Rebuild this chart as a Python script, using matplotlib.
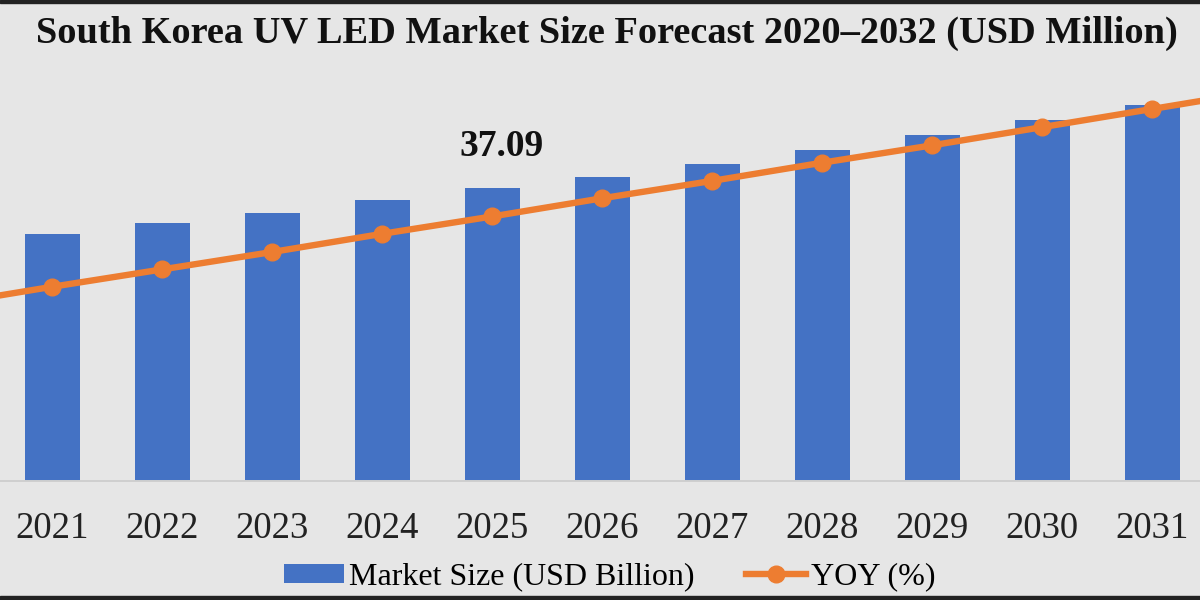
import matplotlib.pyplot as plt
from matplotlib.patches import Rectangle

# Data
years = ["2020", "2021", "2022", "2023", "2024", "2025", "2026",
         "2027", "2028", "2029", "2030", "2031", "2032"]
market_size = [29.9, 31.3, 32.7, 34.0, 35.6, 37.09, 38.5,
               40.2, 41.9, 43.8, 45.7, 47.6, 49.5]
yoy = [22.3, 24.6, 26.8, 29.0, 31.3, 33.5, 35.8,
       38.0, 40.3, 42.5, 44.8, 47.1, 49.4]
label_year = "2025"
label_text = "37.09"

bg = "#e6e6e6"
bar_color = "#4472c4"
line_color = "#ed7d31"
serif = ["Liberation Serif", "DejaVu Serif"]

fig = plt.figure(figsize=(12, 6), dpi=100, facecolor=bg)
ax = fig.add_axes([0, 0.198, 1, 0.702])
ax.set_facecolor(bg)

x = list(range(len(years)))
ax.bar(x, market_size, width=0.5, color=bar_color, zorder=2,
       label="Market Size (USD Billion)")

ax2 = ax.twinx()
ax2.plot(x, yoy, color=line_color, linewidth=4.6, marker="o",
         markersize=12, zorder=3, label="YOY (%)")

# Data label above 2025 bar
i = years.index(label_year)
ax.annotate(label_text, (x[i], market_size[i]), xytext=(10, 42),
            textcoords="offset pixels", ha="center", va="center",
            fontsize=27, fontweight="bold", family=serif, color="#111111")

ax.set_xticks(x)
ax.set_xticklabels(years, family=serif, fontsize=26.5, color="#222222")
ax.tick_params(axis="x", length=0, pad=22)
ax.set_yticks([])
ax2.set_yticks([])
for a in (ax, ax2):
    for s in ("top", "left", "right"):
        a.spines[s].set_visible(False)
    a.spines["bottom"].set_color("#cfcfcf")
    a.spines["bottom"].set_linewidth(1.2)

# the picture is a crop: 2020 and 2032 sit just outside the frame
# (set after set_xticks, which widens the view)
for a in (ax, ax2):
    a.set_xlim(0.527, 11.436)
    a.set_ylim(0, 53.3)

fig.text(0.506, 0.945, "South Korea UV LED Market Size Forecast 2020\u20132032 (USD Million)",
         ha="center", va="center", fontsize=27.6, fontweight="bold",
         family=serif, color="#111111")

h1, l1 = ax.get_legend_handles_labels()
h2, l2 = ax2.get_legend_handles_labels()
fig.legend(h1 + h2, l1 + l2, loc="center", bbox_to_anchor=(0.508, 0.038),
           ncol=2, frameon=False, prop={"family": serif, "size": 23},
           handlelength=1.9, handleheight=0.55, handletextpad=0.15,
           columnspacing=1.6)

# Dark strips at top and bottom edges
fig.patches.append(Rectangle((0, 0.995), 1, 0.005, transform=fig.transFigure,
                             color="#222222", zorder=10))
fig.patches.append(Rectangle((0, 0), 1, 0.007, transform=fig.transFigure,
                             color="#222222", zorder=10))

fig.savefig("out.png", dpi=100, facecolor=bg)
